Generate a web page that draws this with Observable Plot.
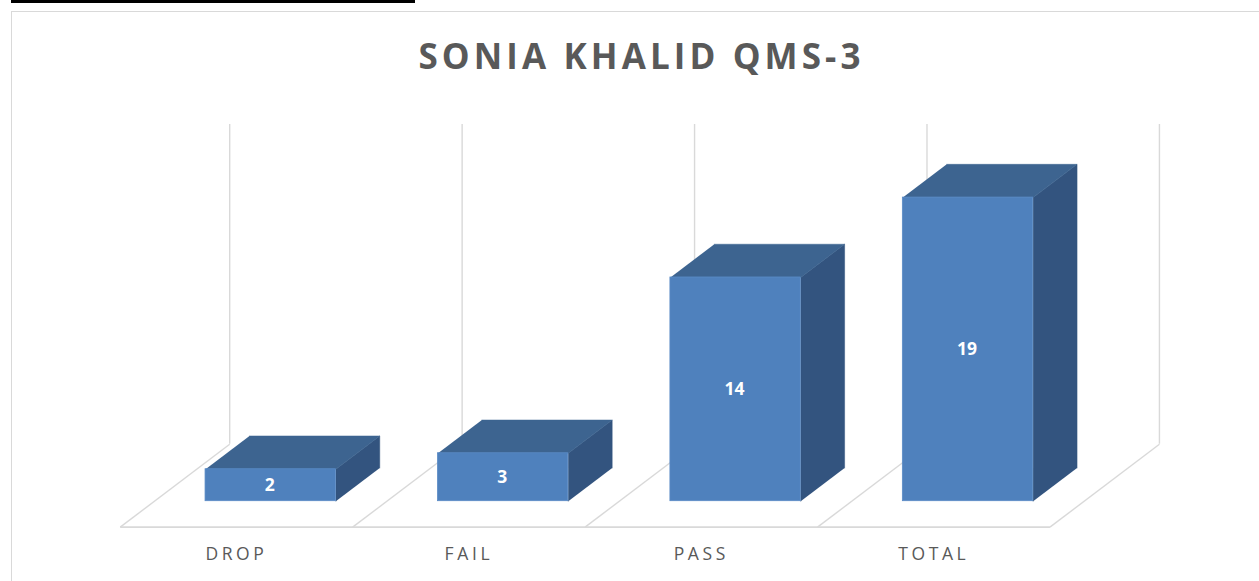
<!DOCTYPE html>
<html>
<head>
<meta charset="utf-8">
<script src="https://cdn.jsdelivr.net/npm/d3@7"></script>
<script src="https://cdn.jsdelivr.net/npm/@observablehq/plot@0.6"></script>
<style>
  html, body { margin: 0; padding: 0; background: #fff; overflow: hidden; }
  #wrap { position: relative; width: 1259px; height: 581px; overflow: hidden; font-family: "Open Sans", sans-serif; }
  #topline { position: absolute; left: 11px; top: 0; width: 404px; height: 3px; background: #000; }
  #frame { position: absolute; left: 11px; top: 11px; width: 1400px; height: 800px; border: 1.5px solid #d9d9d9; box-sizing: border-box; }
  #title { position: absolute; left: 13px; width: 1257px; top: 38px; text-align: center; font-weight: 700; font-size: 35px;
           letter-spacing: 4.1px; color: #595959; line-height: 1; white-space: nowrap; }
  #chart { position: absolute; left: 0; top: 0; }
  .catlab text { letter-spacing: 3.6px; }
</style>
</head>
<body>
<div id="wrap">
  <div id="topline"></div>
  <div id="frame"></div>
  <div id="title">SONIA KHALID QMS-3</div>
  <div id="chart"></div>
</div>
<script>
// ---- data ----
const categories = ["DROP", "FAIL", "PASS", "TOTAL"];
const values = [2, 3, 14, 19];
const yMax = 20;

// ---- 3D geometry (data units) ----
const t0 = 0.313;     // bar front position as fraction of floor depth
const depth = 0.401;  // bar depth as fraction of floor depth
const DX = 0.471;     // full floor depth, x component (category units)
const DY = 5.19;      // full floor depth, y component (value units)
const half = 0.2803;  // half bar width (category units)

const bars = categories.map((c, i) => ({c, i, v: values[i]}));
const boundaries = d3.range(categories.length + 1).map(i => i - 0.5);

const topFaces = bars.flatMap(b => [
  {id: b.c, x: b.i - half, y: b.v},
  {id: b.c, x: b.i + half, y: b.v},
  {id: b.c, x: b.i + half + depth * DX, y: b.v + depth * DY},
  {id: b.c, x: b.i - half + depth * DX, y: b.v + depth * DY}
]);
const sideFaces = bars.flatMap(b => [
  {id: b.c, x: b.i + half, y: 0},
  {id: b.c, x: b.i + half, y: b.v},
  {id: b.c, x: b.i + half + depth * DX, y: b.v + depth * DY},
  {id: b.c, x: b.i + half + depth * DX, y: depth * DY}
]);

const grid = "#d9d9d9";
const front = "#4f81bd", topC = "#3d6490", sideC = "#33547f";

const chart = Plot.plot({
  width: 1259,
  height: 581,
  margin: 0,
  style: {background: "transparent", fontFamily: "Open Sans", overflow: "visible"},
  x: {type: "linear", domain: [0, 3], range: [270.2, 967.5], axis: null},
  y: {type: "linear", domain: [0, yMax], range: [500.7, 500.7 - yMax * 15.98], axis: null},
  marks: [
    // back-wall gridlines
    Plot.ruleX(boundaries, {x: b => b + (1 - t0) * DX, y1: () => (1 - t0) * DY, y2: () => yMax + (1 - t0) * DY,
      stroke: grid, strokeWidth: 1.4}),
    // floor diagonals
    Plot.link(boundaries, {x1: b => b - t0 * DX, y1: () => -t0 * DY, x2: b => b + (1 - t0) * DX, y2: () => (1 - t0) * DY,
      stroke: grid, strokeWidth: 1.4}),
    // floor front edge
    Plot.link([boundaries], {x1: d => d[0] - t0 * DX, x2: d => d[d.length - 1] - t0 * DX,
      y1: () => -t0 * DY, y2: () => -t0 * DY, stroke: grid, strokeWidth: 1.6}),
    // bars: side, top, front
    Plot.line(sideFaces, {x: "x", y: "y", z: "id", fill: sideC, stroke: sideC, strokeWidth: 0.5}),
    Plot.line(topFaces, {x: "x", y: "y", z: "id", fill: topC, stroke: topC, strokeWidth: 0.5}),
    Plot.rect(bars, {x1: d => d.i - half, x2: d => d.i + half, y1: () => 0, y2: "v",
      fill: front, stroke: "#5a8bc6", strokeWidth: 0.8}),
    // value labels
    Plot.text(bars, {x: "i", y: d => d.v / 2, text: d => String(d.v), fill: "white", dx: -1,
      fontWeight: "bold", fontSize: 17.5, fontFamily: "Open Sans"}),
    // category labels
    Plot.text(bars, {x: d => d.i - t0 * DX, y: () => -t0 * DY, text: "c", dy: 27,
      fill: "#595959", fontSize: 17.5, fontFamily: "Open Sans"})
  ]
});
// tag the category-label group so its letter spacing can be styled
d3.select(chart).selectAll("g[aria-label='text']").filter(function() {
  return d3.select(this).selectAll("text").nodes().some(n => categories.includes(n.textContent));
}).classed("catlab", true);
document.getElementById("chart").appendChild(chart);
</script>
</body>
</html>
